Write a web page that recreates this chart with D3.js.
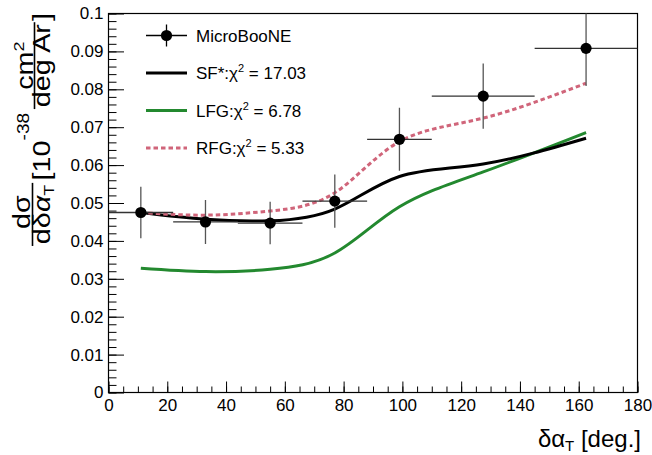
<!DOCTYPE html>
<html><head><meta charset="utf-8">
<script src="https://cdn.jsdelivr.net/npm/d3@7"></script>
<style>
body{margin:0;background:#fff}
svg{display:block}
text{font-family:"Liberation Sans",Arial,Helvetica,sans-serif;fill:#000}
</style>
</head><body><svg id="c" width="652" height="455"></svg>
<script>
// ---- data ----
const binEdges   = [0, 22, 44, 66, 88, 110, 145, 180];
const binCenters = [11, 33, 55, 77, 99, 127.5, 162.5];
const dataVals   = [0.0475, 0.0450, 0.0447, 0.0505, 0.0668, 0.0782, 0.0908];
const dataErrs   = [0.0068, 0.0058, 0.0056, 0.0070, 0.0083, 0.0086, 0.0099];
const sfVals     = [0.0475, 0.0457, 0.0453, 0.0484, 0.0570, 0.0603, 0.0671];
const lfgVals    = [0.0328, 0.0319, 0.0325, 0.0368, 0.0490, 0.0582, 0.0686];
const rfgVals    = [0.0475, 0.0468, 0.0479, 0.0527, 0.0662, 0.0724, 0.0816];
const xTicks     = [0, 20, 40, 60, 80, 100, 120, 140, 160, 180];
const yTicks     = [0, 0.01, 0.02, 0.03, 0.04, 0.05, 0.06, 0.07, 0.08, 0.09, 0.1];
const modelNames = ["SF*", "LFG", "RFG"];
const modelChi2  = ["17.03", "6.78", "5.33"];
const dataName   = "MicroBooNE";

// ---- layout ----
const L = 108.5, R = 637.5, T = 13.5, B = 392.5;
const svg = d3.select("#c");
const x = d3.scaleLinear().domain([0, 180]).range([L, R]);
const y = d3.scaleLinear().domain([0, 0.1]).range([B, T]);

svg.append("defs").append("clipPath").attr("id","clip")
  .append("rect").attr("x",L).attr("y",T).attr("width",R-L).attr("height",B-T);

// axes (ticks inside like ROOT)
const fmtY = v => v === 0 ? "0" : String(+v.toFixed(2));
const xMinor = d3.range(0, 181, 5);
const yMinor = d3.range(0, 0.1001, 0.002);

const gx = svg.append("g").attr("transform",`translate(0,${B})`);
gx.call(d3.axisBottom(x).tickValues(xMinor).tickSize(-6).tickFormat(""));
gx.call(g=>g.select(".domain").remove());
const gx2 = svg.append("g").attr("transform",`translate(0,${B})`)
  .call(d3.axisBottom(x).tickValues(xTicks).tickSize(-11).tickPadding(6).tickFormat(d3.format("d")));
gx2.select(".domain").remove();
gx2.selectAll("text").attr("font-size",17).attr("font-family",null).style("font-family",'"Liberation Sans",Arial,sans-serif');

const gy = svg.append("g").attr("transform",`translate(${L},0)`);
gy.call(d3.axisLeft(y).tickValues(yMinor).tickSize(-8).tickFormat(""));
gy.call(g=>g.select(".domain").remove());
const gy2 = svg.append("g").attr("transform",`translate(${L},0)`)
  .call(d3.axisLeft(y).tickValues(yTicks).tickSize(-15.5).tickPadding(5).tickFormat(fmtY));
gy2.select(".domain").remove();
gy2.selectAll("text").attr("font-size",17).attr("font-family",null).style("font-family",'"Liberation Sans",Arial,sans-serif');
svg.selectAll(".tick line").attr("stroke","#000").attr("stroke-width",1);

// frame
svg.append("rect").attr("x",L).attr("y",T).attr("width",R-L).attr("height",B-T)
  .attr("fill","none").attr("stroke","#000").attr("stroke-width",1.2);

// curves
const plot = svg.append("g").attr("clip-path","url(#clip)");
const line = vals => d3.line().x((d,i)=>x(binCenters[i])).y(d=>y(d)).curve(d3.curveNatural)(vals);
plot.append("path").attr("d",line(lfgVals)).attr("fill","none").attr("stroke","#23892f").attr("stroke-width",3);
plot.append("path").attr("d",line(sfVals)).attr("fill","none").attr("stroke","#000").attr("stroke-width",3);
plot.append("path").attr("d",line(rfgVals)).attr("fill","none").attr("stroke","#d0657a").attr("stroke-width",3).attr("stroke-dasharray","4.5,3");

// data points
const pts = plot.append("g");
dataVals.forEach((v,i)=>{
  pts.append("line").attr("x1",x(binEdges[i])).attr("x2",x(binEdges[i+1]))
    .attr("y1",y(v)).attr("y2",y(v)).attr("stroke","#333").attr("stroke-width",1.3);
  pts.append("line").attr("x1",x(binCenters[i])).attr("x2",x(binCenters[i]))
    .attr("y1",y(v-dataErrs[i])).attr("y2",y(v+dataErrs[i])).attr("stroke","#555").attr("stroke-width",1.3);
  pts.append("circle").attr("cx",x(binCenters[i])).attr("cy",y(v)).attr("r",5.6).attr("fill","#000");
});

// legend
const lg = svg.append("g");
const lx1 = 146, lx2 = 187, tx = 196, ly = [35.5, 73, 110.5, 148];
lg.append("line").attr("x1",lx1).attr("x2",lx2).attr("y1",ly[0]).attr("y2",ly[0]).attr("stroke","#000").attr("stroke-width",1.3);
lg.append("line").attr("x1",(lx1+lx2)/2).attr("x2",(lx1+lx2)/2).attr("y1",ly[0]-11).attr("y2",ly[0]+11).attr("stroke","#000").attr("stroke-width",1.3);
lg.append("circle").attr("cx",(lx1+lx2)/2).attr("cy",ly[0]).attr("r",5.6).attr("fill","#000");
lg.append("text").attr("x",tx).attr("y",ly[0]+6).attr("font-size",17).text(dataName);
const styles = [{c:"#000",d:null},{c:"#23892f",d:null},{c:"#d0657a",d:"4.5,3"}];
modelNames.forEach((n,i)=>{
  const yy = ly[i+1];
  lg.append("line").attr("x1",lx1).attr("x2",lx2).attr("y1",yy).attr("y2",yy)
    .attr("stroke",styles[i].c).attr("stroke-width",3).attr("stroke-dasharray",styles[i].d);
  const t = lg.append("text").attr("x",tx).attr("y",yy+6).attr("font-size",17);
  t.append("tspan").text(n+":");
  t.append("tspan").text("χ");
  t.append("tspan").attr("font-size",11).attr("dy",-7).text("2");
  t.append("tspan").attr("dy",7).text(" = "+modelChi2[i]);
});

// x title
const xt = svg.append("text").attr("x",641).attr("y",447).attr("text-anchor","end").attr("font-size",24);
xt.append("tspan").text("δα");
xt.append("tspan").attr("font-size",15).attr("dy",4).text("T");
xt.append("tspan").attr("dy",-4).text(" [deg.]");

// y title (rotated, built piece by piece, right-aligned at top of frame)
const yt = svg.append("g");
let u = 0;
const F = 24, S = 1.2;
function piece(txt, v, size){
  return yt.append("text").attr("x",u).attr("y",v).attr("font-size",size).text(txt);
}
// fraction 1
const num1 = yt.append("text").attr("y",30).attr("font-size",F).attr("text-anchor","middle").text("dσ");
const den1 = yt.append("text").attr("y",50).attr("font-size",F).attr("text-anchor","middle");
den1.append("tspan").text("dδ");
den1.append("tspan").attr("font-style","italic").text("α");
den1.append("tspan").attr("font-size",15).attr("dy",4).text("T");
let w1 = Math.max(num1.node().getComputedTextLength(), den1.node().getComputedTextLength()) + 3;
num1.attr("x",w1/2+2); den1.attr("x",w1/2);
yt.append("line").attr("x1",0).attr("x2",w1).attr("y1",32.5).attr("y2",32.5).attr("stroke","#000").attr("stroke-width",1.6);
u = w1 + 2;
const br = piece("[10", 50, F);
u += br.node().getComputedTextLength();
const sup = piece("-38", 29, 16);
u += sup.node().getComputedTextLength() + 3;
// fraction 2
const num2 = yt.append("text").attr("y",33).attr("font-size",F).attr("text-anchor","middle");
num2.append("tspan").text("cm");
num2.append("tspan").attr("font-size",15).attr("dy",-9).text("2");
const den2 = yt.append("text").attr("y",50).attr("font-size",F).attr("text-anchor","middle").text("deg Ar");
let w2 = Math.max(num2.node().getComputedTextLength(), den2.node().getComputedTextLength()) + 3;
num2.attr("x",u+w2/2); den2.attr("x",u+w2/2);
yt.append("line").attr("x1",u).attr("x2",u+w2).attr("y1",34.5).attr("y2",34.5).attr("stroke","#000").attr("stroke-width",1.6);
u += w2 + 1;
const cb = piece("]", 50, F);
u += cb.node().getComputedTextLength();
const Y0 = 13 + u * S;
yt.attr("transform",`translate(0,${Y0}) rotate(-90) scale(${S},1)`);
</script></body></html>
